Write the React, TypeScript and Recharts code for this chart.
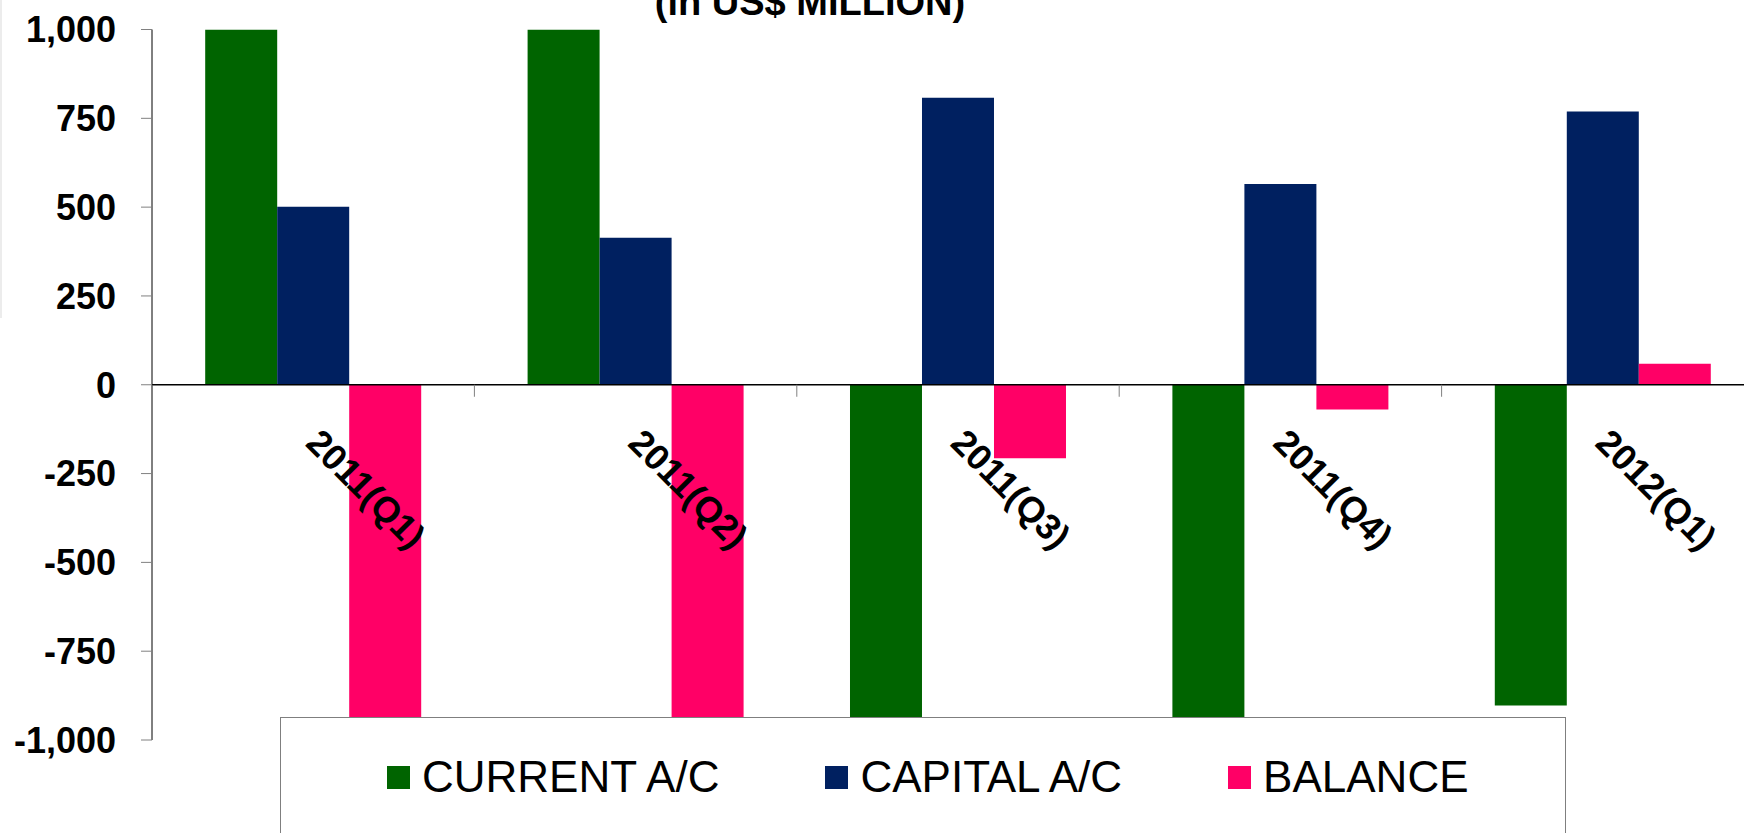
import React from 'react';
import { BarChart, Bar, XAxis, YAxis, ReferenceLine } from 'recharts';

// ---- data (US$ million) ----
const CATEGORIES = ['2011(Q1)', '2011(Q2)', '2011(Q3)', '2011(Q4)', '2012(Q1)'];
const CURRENT_AC = [1000, 1000, -1000, -1000, -903];
const CAPITAL_AC = [501, 414, 808, 565, 769];
const BALANCE = [-1000, -1000, -207, -70, 59];
const Y_TICKS = [-1000, -750, -500, -250, 0, 250, 500, 750, 1000];

const SERIES = [
  { key: 'current', name: 'CURRENT A/C', color: '#006400', values: CURRENT_AC },
  { key: 'capital', name: 'CAPITAL A/C', color: '#002060', values: CAPITAL_AC },
  { key: 'balance', name: 'BALANCE', color: '#FF0066', values: BALANCE },
];

const data = CATEGORIES.map((cat, i) => {
  const row: any = { cat };
  SERIES.forEach((s) => (row[s.key] = s.values[i]));
  return row;
});

// ---- layout ----
const FONT = '"Liberation Sans", Arial, sans-serif';
const CHART_W = 1767;
const CHART_H = 833;
const M_TOP = 29.5;
const X_AXIS_H = 1;
const M_BOTTOM = 93 - X_AXIS_H;
const AXIS_W = 152;
const M_RIGHT = 3;
const Y_MIN = -1000;
const Y_MAX = 1000;
const PLOT_H = CHART_H - M_TOP - M_BOTTOM - X_AXIS_H;
const ZERO_Y = M_TOP + (PLOT_H * Y_MAX) / (Y_MAX - Y_MIN);
const CAT_W = (CHART_W - AXIS_W - M_RIGHT) / CATEGORIES.length;

const fmt = (v: number) => v.toLocaleString('en-US');

function CategoryTick(props: any) {
  const { x, payload } = props;
  const ax = x - 9;
  const ay = ZERO_Y + 60;
  return (
    <g>
      <line x1={x - CAT_W / 2} x2={x - CAT_W / 2} y1={ZERO_Y} y2={ZERO_Y + 12} stroke="#808080" />
      <text
        x={ax}
        y={ay}
        transform={`rotate(45, ${ax}, ${ay})`}
        textAnchor="start"
        fontSize={36}
        fontWeight="bold"
        fontFamily={FONT}
        fill="#000"
      >
        {payload.value}
      </text>
    </g>
  );
}

export default function App() {
  return (
    <div
      style={{
        position: 'absolute',
        left: 0,
        top: 0,
        width: 1744,
        height: 833,
        overflow: 'hidden',
        background: '#fff',
        fontFamily: FONT,
      }}
    >
      {/* faint frame edge at the left */}
      <div style={{ position: 'absolute', left: 0, top: 0, width: 2, height: 318, background: '#ececec' }} />

      <BarChart
        width={CHART_W}
        height={CHART_H}
        data={data}
        margin={{ top: M_TOP, right: M_RIGHT, bottom: M_BOTTOM, left: 0 }}
        barCategoryGap="16.5%"
        barGap={0}
      >
        <XAxis
          dataKey="cat"
          height={X_AXIS_H}
          axisLine={false}
          tickLine={false}
          interval={0}
          tick={(p: any) => <CategoryTick {...p} />}
        />
        <YAxis
          width={AXIS_W}
          domain={[Y_MIN, Y_MAX]}
          ticks={Y_TICKS}
          allowDataOverflow
          tickFormatter={fmt}
          axisLine={{ stroke: '#000', strokeWidth: 1 }}
          tickLine={{ stroke: '#808080' }}
          tickSize={11}
          tickMargin={25}
          tick={{ fontSize: 36, fontWeight: 'bold', fill: '#000', fontFamily: FONT }}
        />
        {SERIES.map((s) => (
          <Bar key={s.key} dataKey={s.key} name={s.name} fill={s.color} isAnimationActive={false} />
        ))}
        <ReferenceLine y={0} stroke="#000" strokeWidth={1.5} />
      </BarChart>

      {/* title, cut off at the top like the source */}
      <svg style={{ position: 'absolute', left: 0, top: 0 }} width={1744} height={40}>
        <text x={810} y={15} textAnchor="middle" fontSize={38} fontWeight="bold" fontFamily={FONT} fill="#000">
          (in US$ MILLION)
        </text>
      </svg>

      {/* legend box overlapping the lower plot */}
      <div
        style={{
          position: 'absolute',
          left: 280,
          top: 717,
          width: 1286,
          height: 200,
          border: '1px solid #7f7f7f',
          background: '#fff',
          boxSizing: 'border-box',
          paddingLeft: 106,
          paddingTop: 34,
          display: 'flex',
          alignItems: 'flex-start',
          gap: 106,
        }}
      >
        {SERIES.map((s) => (
          <div key={s.key} style={{ display: 'flex', alignItems: 'center', height: 50 }}>
            <span style={{ width: 23, height: 23, background: s.color, marginRight: 12, display: 'inline-block' }} />
            <span style={{ fontSize: 44, lineHeight: '50px', color: '#000', whiteSpace: 'nowrap' }}>{s.name}</span>
          </div>
        ))}
      </div>
    </div>
  );
}
